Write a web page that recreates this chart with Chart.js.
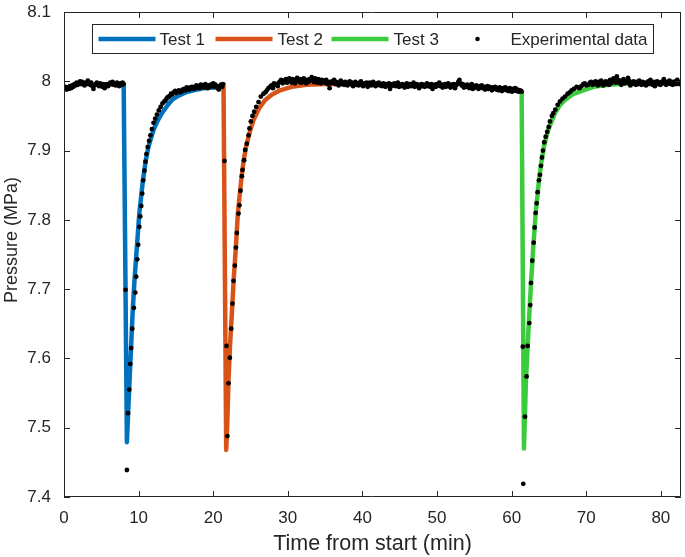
<!DOCTYPE html>
<html>
<head>
<meta charset="utf-8">
<script src="https://cdn.jsdelivr.net/npm/chart.js@4.4.1/dist/chart.umd.min.js"></script>
<style>
  html, body { margin: 0; padding: 0; background: #fff; }
  canvas { display: block; }
</style>
</head>
<body>
<canvas id="chart" width="685" height="557"></canvas>
<script>
// fitted curves, [time (min), pressure (MPa)]
const test1Fit = [
  [8.00, 7.995], [8.43, 7.479], [8.60, 7.522], [8.79, 7.569], [9.00, 7.618],
  [9.19, 7.665], [9.45, 7.713], [9.77, 7.761], [10.09, 7.809], [10.58, 7.857],
  [10.95, 7.885], [11.33, 7.906], [12.00, 7.930], [12.50, 7.942], [13.12, 7.954],
  [13.80, 7.964], [14.46, 7.973], [15.30, 7.979], [16.30, 7.984], [17.36, 7.987],
  [18.60, 7.990], [20.00, 7.991], [21.38, 7.992]
];
const test2Fit = [
  [21.38, 7.997], [21.74, 7.468], [21.90, 7.512], [22.05, 7.569], [22.25, 7.618],
  [22.50, 7.665], [22.75, 7.715], [23.04, 7.761], [23.30, 7.809], [23.75, 7.857],
  [24.05, 7.884], [24.42, 7.906], [24.90, 7.927], [25.40, 7.944], [26.10, 7.960],
  [26.96, 7.973], [27.90, 7.981], [28.97, 7.987], [30.50, 7.992], [32.50, 7.995],
  [35.00, 7.996], [40.00, 7.996]
];
const test3Fit = [
  [61.34, 7.985], [61.65, 7.470], [61.92, 7.569], [62.15, 7.618], [62.37, 7.665],
  [62.62, 7.713], [62.90, 7.761], [63.22, 7.809], [63.66, 7.857], [64.00, 7.884],
  [64.33, 7.906], [64.90, 7.930], [65.80, 7.954], [66.50, 7.966], [67.15, 7.973],
  [68.30, 7.982], [69.60, 7.987], [71.00, 7.992], [73.00, 7.995], [76.00, 7.997],
  [82.70, 7.997]
];

// measured points, split by part of the run
const expBefore1 = [
  [0.05, 7.990], [0.20, 7.992], [0.35, 7.988], [0.50, 7.991], [0.65, 7.989],
  [0.80, 7.993], [0.95, 7.990], [1.10, 7.994], [1.25, 7.992], [1.40, 7.996],
  [1.55, 7.994], [1.70, 7.998], [1.85, 7.995], [2.00, 7.997], [2.15, 8.000],
  [2.30, 7.996], [2.45, 7.999], [2.60, 7.997], [2.75, 7.994], [2.90, 7.998],
  [3.05, 7.996], [3.20, 8.001], [3.35, 7.997], [3.50, 7.995], [3.65, 7.998],
  [3.80, 7.993], [3.95, 7.989], [4.10, 7.994], [4.25, 7.996], [4.40, 7.998],
  [4.55, 7.995], [4.70, 7.993], [4.85, 7.997], [5.00, 7.995], [5.15, 7.992],
  [5.30, 7.996], [5.45, 7.990], [5.60, 7.994], [5.75, 7.996], [5.90, 7.993],
  [6.05, 7.995], [6.20, 7.998], [6.35, 7.996], [6.50, 7.999], [6.65, 7.995],
  [6.80, 7.997], [6.95, 7.994], [7.10, 7.998], [7.25, 7.996], [7.40, 7.993],
  [7.55, 7.997], [7.70, 7.995], [7.85, 7.998], [8.00, 7.996]
];
const expTest1 = [
  [8.25, 7.699], [8.43, 7.439], [8.57, 7.521], [8.75, 7.555], [8.88, 7.592],
  [9.01, 7.615], [9.15, 7.643], [9.37, 7.673], [9.55, 7.695], [9.68, 7.718],
  [9.82, 7.743], [9.95, 7.764], [10.10, 7.790], [10.22, 7.805], [10.35, 7.820],
  [10.48, 7.838], [10.62, 7.857], [10.78, 7.871], [10.92, 7.884], [11.05, 7.895],
  [11.22, 7.905], [11.40, 7.914], [11.58, 7.922], [11.78, 7.931], [12.00, 7.940],
  [12.22, 7.946], [12.45, 7.952], [12.70, 7.958], [12.95, 7.963], [13.20, 7.968],
  [13.45, 7.971], [13.60, 7.972], [13.75, 7.975], [13.90, 7.977], [14.05, 7.978],
  [14.20, 7.979], [14.35, 7.982], [14.50, 7.981], [14.70, 7.984], [14.90, 7.986],
  [15.05, 7.983], [15.20, 7.985], [15.40, 7.987], [15.55, 7.984], [15.75, 7.985],
  [15.90, 7.988], [16.10, 7.989], [16.30, 7.987], [16.45, 7.991], [16.60, 7.990],
  [16.80, 7.988], [16.95, 7.991], [17.15, 7.992], [17.30, 7.989], [17.45, 7.992],
  [17.60, 7.990], [17.75, 7.994], [17.90, 7.991], [18.05, 7.993], [18.20, 7.990],
  [18.35, 7.995], [18.50, 7.992], [18.65, 7.994], [18.80, 7.991], [18.95, 7.996],
  [19.10, 7.993], [19.25, 7.990], [19.40, 7.994], [19.55, 7.992], [19.70, 7.995],
  [19.85, 7.993], [20.00, 7.997], [20.15, 7.992], [20.30, 7.995], [20.45, 7.993],
  [20.60, 7.990], [20.75, 7.988], [20.90, 7.993], [21.05, 7.995], [21.20, 7.992],
  [21.32, 7.996]
];
const expTest2 = [
  [21.51, 7.885], [21.78, 7.618], [21.90, 7.488], [22.05, 7.564], [22.23, 7.601],
  [22.41, 7.643], [22.58, 7.679], [22.72, 7.712], [22.90, 7.734], [23.04, 7.760],
  [23.17, 7.781], [23.39, 7.809], [23.52, 7.821], [23.66, 7.842], [23.84, 7.863],
  [23.93, 7.872], [24.15, 7.886], [24.28, 7.901], [24.50, 7.910], [24.73, 7.922],
  [24.86, 7.932], [25.04, 7.942], [25.26, 7.950], [25.49, 7.956], [25.76, 7.963],
  [26.07, 7.970], [26.38, 7.978], [26.74, 7.982], [27.00, 7.984], [27.19, 7.987],
  [27.40, 7.990], [27.63, 7.992], [27.80, 7.994], [28.00, 7.990], [28.15, 7.997],
  [28.30, 7.995], [28.50, 7.996], [28.65, 7.993], [28.80, 7.998], [28.97, 8.000],
  [29.10, 8.002]
];
const expBetween = [
  [29.30, 7.997], [29.45, 8.001], [29.60, 7.999], [29.75, 8.003], [29.90, 7.998],
  [30.05, 8.002], [30.20, 8.004], [30.35, 8.000], [30.50, 7.998], [30.65, 8.003],
  [30.80, 8.001], [30.95, 7.997], [31.10, 8.002], [31.25, 8.005], [31.40, 8.001],
  [31.55, 7.999], [31.70, 8.003], [31.85, 7.998], [32.00, 8.001], [32.15, 8.004],
  [32.30, 8.000], [32.45, 7.997], [32.60, 8.002], [32.75, 7.999], [32.90, 8.003],
  [33.05, 8.001], [33.20, 8.006], [33.35, 8.002], [33.50, 7.999], [33.65, 8.004],
  [33.80, 8.000], [33.95, 7.998], [34.10, 8.003], [34.25, 8.001], [34.40, 7.997],
  [34.55, 8.002], [34.70, 7.999], [34.85, 8.001], [35.00, 7.998], [35.15, 8.002],
  [35.30, 7.996], [35.45, 7.999], [35.60, 7.990], [35.75, 7.997], [35.90, 8.000],
  [36.05, 7.998], [36.20, 8.002], [36.35, 7.996], [36.50, 7.999], [36.65, 7.997],
  [36.80, 7.994], [36.95, 7.998], [37.10, 8.001], [37.25, 7.996], [37.40, 7.998],
  [37.55, 7.995], [37.70, 7.999], [37.85, 7.997], [38.00, 7.994], [38.15, 7.998],
  [38.30, 8.000], [38.45, 7.996], [38.60, 7.998], [38.75, 7.993], [38.90, 7.996],
  [39.05, 7.999], [39.20, 7.995], [39.35, 7.997], [39.50, 7.994], [39.65, 7.998],
  [39.80, 8.000], [39.95, 7.995], [40.10, 7.993], [40.25, 7.997], [40.40, 7.995],
  [40.55, 7.998], [40.70, 7.992], [40.85, 7.996], [41.00, 7.998], [41.15, 7.994],
  [41.30, 7.996], [41.45, 7.999], [41.60, 7.995], [41.75, 7.993], [41.90, 7.997],
  [42.05, 7.995], [42.20, 7.998], [42.35, 7.994], [42.50, 7.996], [42.65, 7.993],
  [42.80, 7.997], [42.95, 7.995], [43.10, 7.992], [43.25, 7.996], [43.40, 7.994],
  [43.55, 7.997], [43.70, 7.989], [43.85, 7.993], [44.00, 7.996], [44.15, 7.994],
  [44.30, 7.997], [44.45, 7.993], [44.60, 7.995], [44.75, 7.998], [44.90, 7.992],
  [45.05, 7.995], [45.20, 7.993], [45.35, 7.996], [45.50, 7.994], [45.65, 7.991],
  [45.80, 7.995], [45.95, 7.997], [46.10, 7.992], [46.25, 7.994], [46.40, 7.996],
  [46.55, 7.993], [46.70, 7.995], [46.85, 7.998], [47.00, 7.992], [47.15, 7.994],
  [47.30, 7.996], [47.45, 7.993], [47.60, 7.990], [47.75, 7.994], [47.90, 7.996],
  [48.05, 7.993], [48.20, 7.995], [48.35, 7.992], [48.50, 7.994], [48.65, 7.997],
  [48.80, 7.993], [48.95, 7.995], [49.10, 7.992], [49.25, 7.996], [49.40, 7.989],
  [49.55, 7.993], [49.70, 7.995], [49.85, 7.992], [50.00, 7.996], [50.15, 7.994],
  [50.30, 7.998], [50.45, 7.993], [50.60, 7.995], [50.75, 7.991], [50.90, 7.994],
  [51.05, 7.996], [51.20, 7.992], [51.35, 7.995], [51.50, 7.997], [51.65, 7.993],
  [51.80, 7.991], [51.95, 7.995], [52.10, 7.993], [52.25, 7.996], [52.40, 7.990],
  [52.55, 7.994], [52.70, 7.996], [52.85, 7.999], [53.00, 8.002], [53.15, 7.997],
  [53.30, 7.994], [53.45, 7.996], [53.60, 7.991], [53.75, 7.994], [53.90, 7.992],
  [54.05, 7.995], [54.20, 7.993], [54.35, 7.990], [54.50, 7.994], [54.65, 7.996],
  [54.80, 7.989], [54.95, 7.993], [55.10, 7.991], [55.25, 7.994], [55.40, 7.992],
  [55.55, 7.989], [55.70, 7.993], [55.85, 7.991], [56.00, 7.994], [56.15, 7.990],
  [56.30, 7.992], [56.45, 7.988], [56.60, 7.991], [56.75, 7.993], [56.90, 7.989],
  [57.05, 7.992], [57.20, 7.990], [57.35, 7.987], [57.50, 7.991], [57.65, 7.989],
  [57.80, 7.992], [57.95, 7.988], [58.10, 7.990], [58.25, 7.987], [58.40, 7.991],
  [58.55, 7.989], [58.70, 7.986], [58.85, 7.990], [59.00, 7.988], [59.15, 7.991],
  [59.30, 7.987], [59.45, 7.989], [59.60, 7.986], [59.75, 7.990], [59.90, 7.988],
  [60.05, 7.985], [60.20, 7.989], [60.35, 7.987], [60.50, 7.990], [60.65, 7.986],
  [60.80, 7.988], [60.95, 7.985], [61.10, 7.987], [61.25, 7.986], [61.34, 7.985]
];
const expTest3 = [
  [61.50, 7.617], [61.56, 7.419], [61.79, 7.516], [62.00, 7.574], [62.15, 7.618],
  [62.37, 7.651], [62.50, 7.677], [62.59, 7.709], [62.77, 7.741], [62.95, 7.767],
  [63.08, 7.789], [63.22, 7.810], [63.35, 7.824], [63.48, 7.840], [63.66, 7.857],
  [63.80, 7.865], [63.93, 7.878], [64.06, 7.890], [64.20, 7.900], [64.37, 7.912],
  [64.56, 7.920], [64.77, 7.927], [64.96, 7.934], [65.13, 7.942], [65.40, 7.950],
  [65.58, 7.954], [65.85, 7.959], [66.17, 7.966], [66.48, 7.971], [66.83, 7.975],
  [67.15, 7.978], [67.50, 7.982], [67.80, 7.984], [68.04, 7.987], [68.35, 7.989],
  [68.70, 7.992], [68.90, 7.991], [69.10, 7.990], [69.35, 7.993], [69.60, 7.996],
  [69.80, 7.997], [70.00, 7.994], [70.25, 7.995], [70.50, 7.998], [70.65, 7.999]
];
const expAfter3 = [
  [70.80, 7.995], [70.95, 7.998], [71.10, 7.996], [71.25, 8.000], [71.40, 7.997],
  [71.55, 7.994], [71.70, 7.999], [71.85, 7.996], [72.00, 8.001], [72.15, 7.997],
  [72.30, 7.994], [72.45, 7.998], [72.60, 8.000], [72.75, 7.996], [72.90, 7.999],
  [73.05, 7.995], [73.20, 8.002], [73.35, 7.997], [73.50, 7.999], [73.65, 8.004],
  [73.80, 8.001], [73.95, 7.998], [74.10, 8.007], [74.25, 8.002], [74.40, 7.998],
  [74.55, 8.001], [74.70, 7.995], [74.85, 7.999], [75.00, 8.003], [75.15, 7.997],
  [75.30, 8.000], [75.45, 7.998], [75.60, 8.005], [75.75, 8.001], [75.90, 7.994],
  [76.05, 7.998], [76.20, 7.996], [76.35, 8.000], [76.50, 7.997], [76.65, 7.995],
  [76.80, 7.999], [76.95, 7.996], [77.10, 8.001], [77.25, 7.997], [77.40, 7.995],
  [77.55, 7.999], [77.70, 7.996], [77.85, 7.998], [78.00, 7.994], [78.15, 7.997],
  [78.30, 8.000], [78.45, 7.996], [78.60, 8.002], [78.75, 7.998], [78.90, 7.995],
  [79.05, 7.999], [79.20, 7.993], [79.35, 7.997], [79.50, 8.000], [79.65, 7.996],
  [79.80, 7.998], [79.95, 7.995], [80.10, 7.999], [80.25, 7.997], [80.40, 8.003],
  [80.55, 7.998], [80.70, 7.995], [80.85, 7.999], [81.00, 7.997], [81.15, 8.001],
  [81.30, 7.996], [81.45, 7.999], [81.60, 7.995], [81.75, 7.998], [81.90, 8.000],
  [82.05, 7.996], [82.20, 8.002], [82.35, 7.998], [82.50, 7.996], [82.65, 7.999]
];

const seriesNames = ["Test 1", "Test 2", "Test 3", "Experimental data"];
const seriesColors = ["#0072BD", "#D95319", "#3CCB3C", "#000000"];

const axisColor = "#262626";
const fontFamily = "'Liberation Sans', Arial, Helvetica, sans-serif";

function toXY(pairs) {
  return pairs.map((p) => ({ x: p[0], y: p[1] }));
}

function fitDataset(i, pairs) {
  return {
    label: seriesNames[i],
    data: toXY(pairs),
    showLine: true,
    borderColor: seriesColors[i],
    backgroundColor: seriesColors[i],
    borderWidth: 4.5,
    borderJoinStyle: "round",
    pointRadius: 0,
    order: 1,
  };
}

// box round the plot area, ticks pointing inward on all four sides
const axesBox = {
  id: "axesBox",
  afterDatasetsDraw(chart) {
    const { ctx, chartArea: a, scales } = chart;
    const len = 6;
    ctx.save();
    ctx.strokeStyle = axisColor;
    ctx.lineWidth = 1;
    ctx.beginPath();
    ctx.rect(a.left + 0.5, a.top + 0.5, a.right - a.left - 1, a.bottom - a.top - 1);
    scales.x.ticks.forEach((t) => {
      const px = Math.round(scales.x.getPixelForValue(t.value)) + 0.5;
      ctx.moveTo(px, a.bottom);
      ctx.lineTo(px, a.bottom - len);
      ctx.moveTo(px, a.top);
      ctx.lineTo(px, a.top + len);
    });
    scales.y.ticks.forEach((t) => {
      const py = Math.round(scales.y.getPixelForValue(t.value)) + 0.5;
      ctx.moveTo(a.left, py);
      ctx.lineTo(a.left + len, py);
      ctx.moveTo(a.right, py);
      ctx.lineTo(a.right - len, py);
    });
    ctx.stroke();
    ctx.restore();
  },
};

// y axis title, set a little above the middle as in the original
const yTitle = {
  id: "yTitle",
  afterDraw(chart) {
    const { ctx } = chart;
    ctx.save();
    ctx.translate(12.5, 240);
    ctx.rotate(-Math.PI / 2);
    ctx.font = "18px " + fontFamily;
    ctx.fillStyle = axisColor;
    ctx.textAlign = "center";
    ctx.textBaseline = "middle";
    ctx.fillText("Pressure (MPa)", 0, 0);
    ctx.restore();
  },
};

// legend drawn inside the plot, one row in a box
const boxLegend = {
  id: "boxLegend",
  afterDraw(chart) {
    const { ctx, chartArea: a } = chart;
    const left = a.left + 28.5;
    const top = a.top + 12.5;
    const w = 561;
    const h = 29;
    const cy = top + h / 2;
    ctx.save();
    ctx.fillStyle = "#fff";
    ctx.fillRect(left, top, w, h);
    ctx.strokeStyle = axisColor;
    ctx.lineWidth = 1;
    ctx.strokeRect(left, top, w, h);

    ctx.font = "17px " + fontFamily;
    ctx.textBaseline = "middle";
    // offsets from the box's left edge: sample start and text start
    const items = [
      { sample: 6, text: 67 },
      { sample: 123, text: 185 },
      { sample: 239, text: 301 },
      { sample: 385, text: 418 },
    ];
    items.forEach((it, i) => {
      const ds = chart.data.datasets[i];
      if (i < 3) {
        ctx.strokeStyle = ds.borderColor;
        ctx.lineWidth = 4.5;
        ctx.beginPath();
        ctx.moveTo(left + it.sample, cy);
        ctx.lineTo(left + it.sample + 57, cy);
        ctx.stroke();
      } else {
        ctx.fillStyle = ds.pointBackgroundColor;
        ctx.beginPath();
        ctx.arc(left + it.sample, cy, 2.3, 0, Math.PI * 2);
        ctx.fill();
      }
      ctx.fillStyle = axisColor;
      ctx.fillText(ds.label, left + it.text, cy + 1);
    });
    ctx.restore();
  },
};

const expAll = [].concat(expBefore1, expTest1, expTest2, expBetween, expTest3, expAfter3);

new Chart(document.getElementById("chart"), {
  type: "scatter",
  data: {
    datasets: [
      fitDataset(0, test1Fit),
      fitDataset(1, test2Fit),
      fitDataset(2, test3Fit),
      {
        label: seriesNames[3],
        data: toXY(expAll),
        showLine: false,
        pointRadius: 2.4,
        pointBorderWidth: 0,
        pointBackgroundColor: seriesColors[3],
        order: 0,
      },
    ],
  },
  options: {
    responsive: false,
    animation: false,
    layout: { padding: { top: 12, right: 4, left: 0, bottom: 0 } },
    plugins: {
      legend: { display: false },
      tooltip: { enabled: false },
    },
    scales: {
      x: {
        type: "linear",
        min: 0,
        max: 82.7,
        grid: { display: false, drawTicks: false },
        border: { display: false },
        ticks: {
          stepSize: 10,
          includeBounds: false,
          padding: 11,
          color: axisColor,
          font: { family: fontFamily, size: 17 },
        },
        title: {
          display: true,
          text: "Time from start (min)",
          color: axisColor,
          padding: 0,
          font: { family: fontFamily, size: 21.5 },
        },
        afterFit(scale) {
          scale.height = 60;
        },
      },
      y: {
        type: "linear",
        min: 7.4,
        max: 8.1,
        grid: { display: false, drawTicks: false },
        border: { display: false },
        ticks: {
          stepSize: 0.1,
          padding: 13,
          color: axisColor,
          font: { family: fontFamily, size: 17 },
          callback: (v) => String(+Number(v).toFixed(1)),
        },
        afterFit(scale) {
          // fixed width, and no extra room above the top label
          scale.width = 64;
          scale.paddingTop = 0;
          scale.paddingBottom = 0;
        },
      },
    },
  },
  plugins: [axesBox, yTitle, boxLegend],
});
</script>
</body>
</html>
